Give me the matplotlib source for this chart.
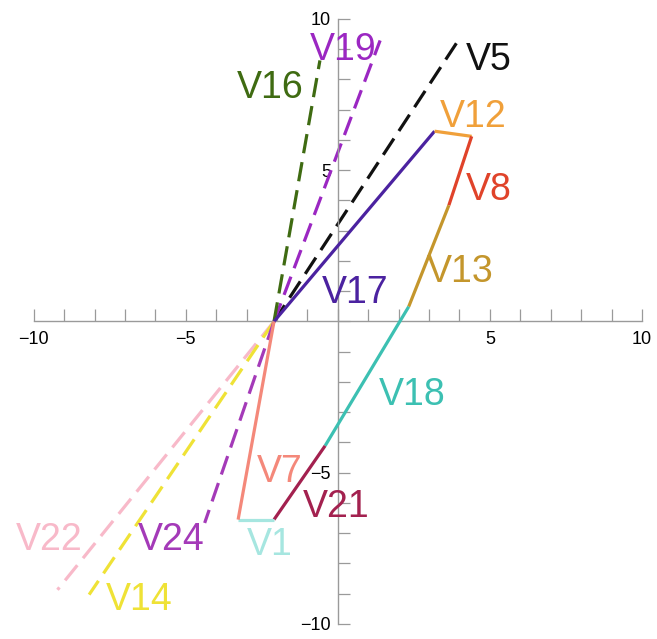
import matplotlib
matplotlib.use("Agg")
import matplotlib.pyplot as plt
from matplotlib.ticker import FixedLocator, MultipleLocator

plt.rcParams["font.family"] = ["Liberation Sans", "DejaVu Sans"]
plt.rcParams["lines.scale_dashes"] = False

# Shared starting point of every ray
hub_x, hub_y = -2.1, 0.0

# Closed solid path: each segment carries one label
path_labels = ["V17", "V12", "V8", "V13", "V18", "V21", "V1", "V7"]
path_x = [-2.1, 3.18, 4.40, 3.65, 2.33, -0.42, -2.1, -3.28, -2.1]
path_y = [0.0, 6.29, 6.12, 3.84, 0.49, -4.11, -6.55, -6.55, 0.0]
path_colors = ["#4b22a0", "#f0a03a", "#e0432a", "#c4962c",
               "#3cc0b2", "#a3214f", "#a6e6e0", "#f4887a"]

# Dashed rays from the hub
ray_labels = ["V5", "V19", "V16", "V22", "V14", "V24"]
ray_end_x = [4.03, 1.39, -0.59, -9.22, -8.18, -4.38]
ray_end_y = [9.40, 9.29, 8.63, -8.87, -9.03, -6.66]
ray_colors = ["#111111", "#9b27c2", "#3f6b12", "#f8b9c9", "#efe236", "#a43ab8"]

# Where each name is written
label_pos = {
    "V16": (-2.24, 7.72), "V19": (0.17, 8.98), "V5": (4.96, 8.64),
    "V12": (4.46, 6.76), "V8": (4.96, 4.34), "V13": (4.03, 1.63),
    "V17": (0.57, 0.94), "V18": (2.45, -2.43), "V7": (-1.91, -4.97),
    "V21": (-0.06, -6.13), "V1": (-2.24, -7.39), "V24": (-5.47, -7.22),
    "V22": (-9.5, -7.22), "V14": (-6.53, -9.2),
}

fig = plt.figure(figsize=(6.57, 6.39), dpi=100)
ax = fig.add_axes([0.0514, 0.0235, 0.9257, 0.9468])
ax.set_xlim(-10, 10)
ax.set_ylim(-10, 10)

label_color = {}
for i, name in enumerate(path_labels):
    ax.plot(path_x[i:i + 2], path_y[i:i + 2], color=path_colors[i],
            lw=2.3, solid_capstyle="butt", zorder=3)
    label_color[name] = path_colors[i]

for name, ex, ey, c in zip(ray_labels, ray_end_x, ray_end_y, ray_colors):
    ax.plot([hub_x, ex], [hub_y, ey], color=c, lw=2.3,
            dashes=(14, 6.5), dash_capstyle="butt", zorder=2)
    label_color[name] = c

for name, (lx, ly) in label_pos.items():
    ax.text(lx, ly, name, color=label_color[name], fontsize=27,
            ha="center", va="center", zorder=4)

# Axes through the origin
for side in ("top", "right"):
    ax.spines[side].set_visible(False)
for side in ("left", "bottom"):
    ax.spines[side].set_position("zero")
    ax.spines[side].set_color("#9a9a9a")
    ax.spines[side].set_linewidth(1.0)

ax.xaxis.set_major_locator(FixedLocator([-10, -5, 5, 10]))
ax.yaxis.set_major_locator(FixedLocator([-10, -5, 5, 10]))
ax.xaxis.set_minor_locator(MultipleLocator(1))
ax.yaxis.set_minor_locator(MultipleLocator(1))
ax.tick_params(which="both", direction="in", length=8.5, width=0.9,
               color="#9a9a9a")
ax.tick_params(axis="x", which="major", pad=7, labelsize=13, labelcolor="black")
ax.tick_params(axis="y", which="major", pad=5, labelsize=13, labelcolor="black")
ax.set_facecolor("white")

fig.savefig("out.png", dpi=100)
